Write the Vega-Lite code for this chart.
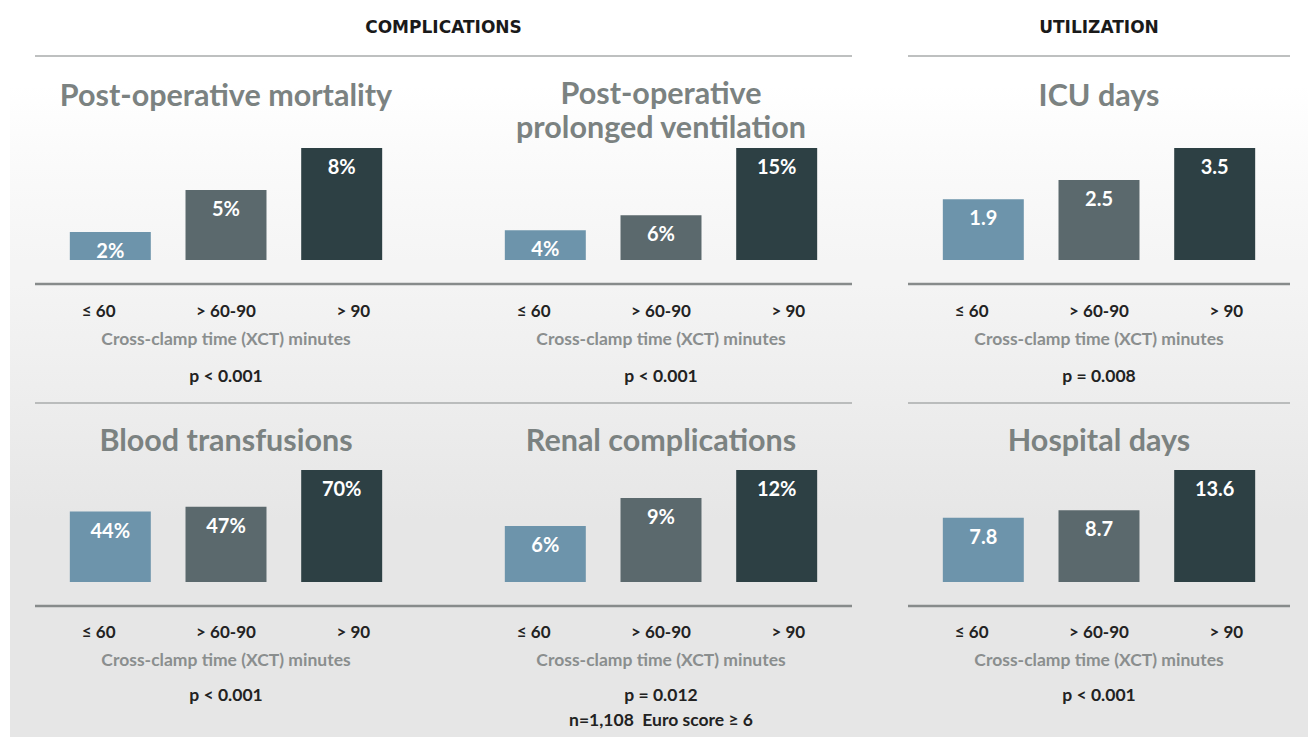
{
  "$schema": "https://vega.github.io/schema/vega-lite/v6.json",
  "padding": {"left": 10, "top": 0, "right": 0, "bottom": 0},
  "autosize": {"type": "pad"},
  "background": "#ffffff",
  "bounds": "flush",
  "align": "each",
  "spacing": 0,
  "columns": 7,
  "config": {"view": {"stroke": null}, "font": "Lato"},
  "datasets": {
    "bars": [
      {"panel": "mort", "cat": "≤ 60", "value": 2, "label": "2%"},
      {"panel": "mort", "cat": "> 60-90", "value": 5, "label": "5%"},
      {"panel": "mort", "cat": "> 90", "value": 8, "label": "8%"},
      {"panel": "vent", "cat": "≤ 60", "value": 4, "label": "4%"},
      {"panel": "vent", "cat": "> 60-90", "value": 6, "label": "6%"},
      {"panel": "vent", "cat": "> 90", "value": 15, "label": "15%"},
      {"panel": "icu", "cat": "≤ 60", "value": 1.9, "label": "1.9"},
      {"panel": "icu", "cat": "> 60-90", "value": 2.5, "label": "2.5"},
      {"panel": "icu", "cat": "> 90", "value": 3.5, "label": "3.5"},
      {"panel": "blood", "cat": "≤ 60", "value": 44, "label": "44%"},
      {"panel": "blood", "cat": "> 60-90", "value": 47, "label": "47%"},
      {"panel": "blood", "cat": "> 90", "value": 70, "label": "70%"},
      {"panel": "renal", "cat": "≤ 60", "value": 6, "label": "6%"},
      {"panel": "renal", "cat": "> 60-90", "value": 9, "label": "9%"},
      {"panel": "renal", "cat": "> 90", "value": 12, "label": "12%"},
      {"panel": "hosp", "cat": "≤ 60", "value": 7.8, "label": "7.8"},
      {"panel": "hosp", "cat": "> 60-90", "value": 8.7, "label": "8.7"},
      {"panel": "hosp", "cat": "> 90", "value": 13.6, "label": "13.6"}
    ],
    "panels": [
      {"panel": "mort", "title": "Post-operative mortality", "xlabel": "Cross-clamp time (XCT) minutes", "p": "p < 0.001", "note": ""},
      {"panel": "vent", "title": "Post-operative\nprolonged ventilation", "xlabel": "Cross-clamp time (XCT) minutes", "p": "p < 0.001", "note": ""},
      {"panel": "icu", "title": "ICU days", "xlabel": "Cross-clamp time (XCT) minutes", "p": "p = 0.008", "note": ""},
      {"panel": "blood", "title": "Blood transfusions", "xlabel": "Cross-clamp time (XCT) minutes", "p": "p < 0.001", "note": ""},
      {"panel": "renal", "title": "Renal complications", "xlabel": "Cross-clamp time (XCT) minutes", "p": "p = 0.012", "note": "n=1,108 \u00a0Euro score ≥ 6"},
      {"panel": "hosp", "title": "Hospital days", "xlabel": "Cross-clamp time (XCT) minutes", "p": "p < 0.001", "note": ""}
    ],
    "headers": [
      {"group": "comp", "label": "COMPLICATIONS"},
      {"group": "util", "label": "UTILIZATION"}
    ]
  },
  "concat": [
    {"width": 25, "height": 56, "data": {"values": [{}]}, "mark": {"type": "text", "text": ""}, "encoding": {}, "view": {"fill": "#ffffff"}},
    {"width": 382, "height": 56, "data": {"values": [{}]}, "mark": {"type": "text", "text": ""}, "encoding": {}, "view": {"fill": "#ffffff"}},
    {"width": 53, "height": 56, "data": {"name": "headers"}, "transform": [{"filter": "datum.group==='comp'"}], "mark": {"type": "text", "font": "DejaVu Sans", "fontWeight": "bold", "fontSize": 17, "color": "#1a1a1a"}, "encoding": {"text": {"field": "label", "type": "nominal"}}, "view": {"fill": "#ffffff"}},
    {"width": 382, "height": 56, "data": {"values": [{}]}, "mark": {"type": "text", "text": ""}, "encoding": {}, "view": {"fill": null}},
    {"width": 56, "height": 56, "data": {"values": [{}]}, "mark": {"type": "text", "text": ""}, "encoding": {}, "view": {"fill": "#ffffff"}},
    {"width": 382, "height": 56, "data": {"name": "headers"}, "transform": [{"filter": "datum.group==='util'"}], "mark": {"type": "text", "font": "DejaVu Sans", "fontWeight": "bold", "fontSize": 17, "color": "#1a1a1a"}, "encoding": {"text": {"field": "label", "type": "nominal"}}, "view": {"fill": "#ffffff"}},
    {"width": 18, "height": 56, "data": {"values": [{}]}, "mark": {"type": "text", "text": ""}, "encoding": {}, "view": {"fill": "#ffffff"}},

    {"width": 25, "height": 92, "data": {"values": [{}]}, "mark": {"type": "text", "text": ""}, "encoding": {}, "view": {"fill": {"gradient": "linear", "x1": 0, "y1": 0, "x2": 0, "y2": 1, "stops": [{"offset": 0, "color": "#ffffff"}, {"offset": 0.32, "color": "#ffffff"}, {"offset": 1, "color": "#fbfbfb"}]}}},
    {"width": 382, "height": 92, "view": {"fill": {"gradient": "linear", "x1": 0, "y1": 0, "x2": 0, "y2": 1, "stops": [{"offset": 0, "color": "#ffffff"}, {"offset": 0.32, "color": "#ffffff"}, {"offset": 1, "color": "#fbfbfb"}]}},
      "layer": [
        {"data": {"values": [{}]}, "mark": {"type": "rule", "color": "#a9abab", "strokeWidth": 1.5}, "encoding": {"y": {"value": 0}}},
        {"data": {"name": "panels"}, "transform": [{"filter": "datum.panel==='mort'"}], "mark": {"type": "text", "fontSize": 30.5, "fontWeight": "bold", "color": "#7b8281", "lineBreak": "\n", "lineHeight": 34, "dy": -5}, "encoding": {"text": {"field": "title", "type": "nominal"}}}
      ]},
    {"width": 53, "height": 92, "view": {"fill": {"gradient": "linear", "x1": 0, "y1": 0, "x2": 0, "y2": 1, "stops": [{"offset": 0, "color": "#ffffff"}, {"offset": 0.32, "color": "#ffffff"}, {"offset": 1, "color": "#fbfbfb"}]}}, "data": {"values": [{}]}, "mark": {"type": "rule", "color": "#a9abab", "strokeWidth": 1.5}, "encoding": {"y": {"value": 0}}},
    {"width": 382, "height": 92, "view": {"fill": {"gradient": "linear", "x1": 0, "y1": 0, "x2": 0, "y2": 1, "stops": [{"offset": 0, "color": "#ffffff"}, {"offset": 0.32, "color": "#ffffff"}, {"offset": 1, "color": "#fbfbfb"}]}},
      "layer": [
        {"data": {"values": [{}]}, "mark": {"type": "rule", "color": "#a9abab", "strokeWidth": 1.5}, "encoding": {"y": {"value": 0}}},
        {"data": {"name": "panels"}, "transform": [{"filter": "datum.panel==='vent'"}], "mark": {"type": "text", "fontSize": 30.5, "fontWeight": "bold", "color": "#7b8281", "lineBreak": "\n", "lineHeight": 34, "dy": -7}, "encoding": {"text": {"field": "title", "type": "nominal"}}}
      ]},
    {"width": 56, "height": 92, "data": {"values": [{}]}, "mark": {"type": "text", "text": ""}, "encoding": {}, "view": {"fill": {"gradient": "linear", "x1": 0, "y1": 0, "x2": 0, "y2": 1, "stops": [{"offset": 0, "color": "#ffffff"}, {"offset": 0.32, "color": "#ffffff"}, {"offset": 1, "color": "#fbfbfb"}]}}},
    {"width": 382, "height": 92, "view": {"fill": {"gradient": "linear", "x1": 0, "y1": 0, "x2": 0, "y2": 1, "stops": [{"offset": 0, "color": "#ffffff"}, {"offset": 0.32, "color": "#ffffff"}, {"offset": 1, "color": "#fbfbfb"}]}},
      "layer": [
        {"data": {"values": [{}]}, "mark": {"type": "rule", "color": "#a9abab", "strokeWidth": 1.5}, "encoding": {"y": {"value": 0}}},
        {"data": {"name": "panels"}, "transform": [{"filter": "datum.panel==='icu'"}], "mark": {"type": "text", "fontSize": 30.5, "fontWeight": "bold", "color": "#7b8281", "lineBreak": "\n", "lineHeight": 34, "dy": -5}, "encoding": {"text": {"field": "title", "type": "nominal"}}}
      ]},
    {"width": 18, "height": 92, "data": {"values": [{}]}, "mark": {"type": "text", "text": ""}, "encoding": {}, "view": {"fill": {"gradient": "linear", "x1": 0, "y1": 0, "x2": 0, "y2": 1, "stops": [{"offset": 0, "color": "#ffffff"}, {"offset": 0.32, "color": "#ffffff"}, {"offset": 1, "color": "#fbfbfb"}]}}},

    {"width": 25, "height": 112, "data": {"values": [{}]}, "mark": {"type": "text", "text": ""}, "encoding": {}, "view": {"fill": {"gradient": "linear", "x1": 0, "y1": 0, "x2": 0, "y2": 1, "stops": [{"offset": 0, "color": "#fbfbfb"}, {"offset": 1, "color": "#f5f5f5"}]}}},
    {"width": 382, "height": 112, "view": {"fill": {"gradient": "linear", "x1": 0, "y1": 0, "x2": 0, "y2": 1, "stops": [{"offset": 0, "color": "#fbfbfb"}, {"offset": 1, "color": "#f5f5f5"}]}},
      "data": {"name": "bars"}, "transform": [{"filter": "datum.panel==='mort'"}],
      "encoding": {
        "x": {"field": "cat", "type": "nominal", "scale": {"domain": ["≤ 60", "> 60-90", "> 90"], "paddingInner": 0.3, "paddingOuter": 0.301}, "axis": null},
        "y": {"field": "value", "type": "quantitative", "scale": {"nice": false, "zero": true}, "axis": null}
      },
      "layer": [
        {"mark": {"type": "bar"}, "encoding": {"color": {"field": "cat", "type": "nominal", "scale": {"domain": ["≤ 60", "> 60-90", "> 90"], "range": ["#6d94ab", "#5b696d", "#2d4044"]}, "legend": null}}},
        {"mark": {"type": "text", "baseline": "top", "dy": 10, "fontSize": 20, "fontWeight": "bold", "color": "#ffffff"}, "encoding": {"text": {"field": "label", "type": "nominal"}}}
      ]},
    {"width": 53, "height": 112, "data": {"values": [{}]}, "mark": {"type": "text", "text": ""}, "encoding": {}, "view": {"fill": {"gradient": "linear", "x1": 0, "y1": 0, "x2": 0, "y2": 1, "stops": [{"offset": 0, "color": "#fbfbfb"}, {"offset": 1, "color": "#f5f5f5"}]}}},
    {"width": 382, "height": 112, "view": {"fill": {"gradient": "linear", "x1": 0, "y1": 0, "x2": 0, "y2": 1, "stops": [{"offset": 0, "color": "#fbfbfb"}, {"offset": 1, "color": "#f5f5f5"}]}},
      "data": {"name": "bars"}, "transform": [{"filter": "datum.panel==='vent'"}],
      "encoding": {
        "x": {"field": "cat", "type": "nominal", "scale": {"domain": ["≤ 60", "> 60-90", "> 90"], "paddingInner": 0.3, "paddingOuter": 0.301}, "axis": null},
        "y": {"field": "value", "type": "quantitative", "scale": {"nice": false, "zero": true}, "axis": null}
      },
      "layer": [
        {"mark": {"type": "bar"}, "encoding": {"color": {"field": "cat", "type": "nominal", "scale": {"domain": ["≤ 60", "> 60-90", "> 90"], "range": ["#6d94ab", "#5b696d", "#2d4044"]}, "legend": null}}},
        {"mark": {"type": "text", "baseline": "top", "dy": 10, "fontSize": 20, "fontWeight": "bold", "color": "#ffffff"}, "encoding": {"text": {"field": "label", "type": "nominal"}}}
      ]},
    {"width": 56, "height": 112, "data": {"values": [{}]}, "mark": {"type": "text", "text": ""}, "encoding": {}, "view": {"fill": {"gradient": "linear", "x1": 0, "y1": 0, "x2": 0, "y2": 1, "stops": [{"offset": 0, "color": "#fbfbfb"}, {"offset": 1, "color": "#f5f5f5"}]}}},
    {"width": 382, "height": 112, "view": {"fill": {"gradient": "linear", "x1": 0, "y1": 0, "x2": 0, "y2": 1, "stops": [{"offset": 0, "color": "#fbfbfb"}, {"offset": 1, "color": "#f5f5f5"}]}},
      "data": {"name": "bars"}, "transform": [{"filter": "datum.panel==='icu'"}],
      "encoding": {
        "x": {"field": "cat", "type": "nominal", "scale": {"domain": ["≤ 60", "> 60-90", "> 90"], "paddingInner": 0.3, "paddingOuter": 0.301}, "axis": null},
        "y": {"field": "value", "type": "quantitative", "scale": {"nice": false, "zero": true}, "axis": null}
      },
      "layer": [
        {"mark": {"type": "bar"}, "encoding": {"color": {"field": "cat", "type": "nominal", "scale": {"domain": ["≤ 60", "> 60-90", "> 90"], "range": ["#6d94ab", "#5b696d", "#2d4044"]}, "legend": null}}},
        {"mark": {"type": "text", "baseline": "top", "dy": 10, "fontSize": 20, "fontWeight": "bold", "color": "#ffffff"}, "encoding": {"text": {"field": "label", "type": "nominal"}}}
      ]},
    {"width": 18, "height": 112, "data": {"values": [{}]}, "mark": {"type": "text", "text": ""}, "encoding": {}, "view": {"fill": {"gradient": "linear", "x1": 0, "y1": 0, "x2": 0, "y2": 1, "stops": [{"offset": 0, "color": "#fbfbfb"}, {"offset": 1, "color": "#f5f5f5"}]}}},

    {"width": 25, "height": 24, "data": {"values": [{}]}, "mark": {"type": "text", "text": ""}, "encoding": {}, "view": {"fill": "#f4f4f4"}},
    {"width": 382, "height": 24, "data": {"values": [{}]}, "mark": {"type": "text", "text": ""}, "encoding": {}, "view": {"fill": "#f4f4f4"}},
    {"width": 53, "height": 24, "data": {"values": [{}]}, "mark": {"type": "text", "text": ""}, "encoding": {}, "view": {"fill": "#f4f4f4"}},
    {"width": 382, "height": 24, "data": {"values": [{}]}, "mark": {"type": "text", "text": ""}, "encoding": {}, "view": {"fill": "#f4f4f4"}},
    {"width": 56, "height": 24, "data": {"values": [{}]}, "mark": {"type": "text", "text": ""}, "encoding": {}, "view": {"fill": "#f4f4f4"}},
    {"width": 382, "height": 24, "data": {"values": [{}]}, "mark": {"type": "text", "text": ""}, "encoding": {}, "view": {"fill": "#f4f4f4"}},
    {"width": 18, "height": 24, "data": {"values": [{}]}, "mark": {"type": "text", "text": ""}, "encoding": {}, "view": {"fill": "#f4f4f4"}},

    {"width": 25, "height": 119, "data": {"values": [{}]}, "mark": {"type": "text", "text": ""}, "encoding": {}, "view": {"fill": {"gradient": "linear", "x1": 0, "y1": 0, "x2": 0, "y2": 1, "stops": [{"offset": 0, "color": "#f4f4f4"}, {"offset": 1, "color": "#ededed"}]}}},
    {"width": 382, "height": 119, "view": {"fill": {"gradient": "linear", "x1": 0, "y1": 0, "x2": 0, "y2": 1, "stops": [{"offset": 0, "color": "#f4f4f4"}, {"offset": 1, "color": "#ededed"}]}},
      "layer": [
        {"data": {"values": [{}]}, "mark": {"type": "rule", "color": "#878b8b", "strokeWidth": 2.5}, "encoding": {"y": {"value": 0}}},
        {"data": {"name": "bars"}, "transform": [{"filter": "datum.panel==='mort'"}], "mark": {"type": "text", "fontSize": 17, "fontWeight": "bold", "color": "#222222", "dy": -31.5}, "encoding": {"x": {"field": "cat", "type": "nominal", "scale": {"domain": ["≤ 60", "> 60-90", "> 90"], "paddingInner": 0.3, "paddingOuter": 0.301}, "axis": null}, "text": {"field": "cat", "type": "nominal"}}},
        {"data": {"name": "panels"}, "transform": [{"filter": "datum.panel==='mort'"}], "mark": {"type": "text", "fontSize": 17.5, "fontWeight": "bold", "color": "#8a8e8e", "dy": -3.5}, "encoding": {"text": {"field": "xlabel", "type": "nominal"}}},
        {"data": {"name": "panels"}, "transform": [{"filter": "datum.panel==='mort'"}], "mark": {"type": "text", "fontSize": 17.5, "fontWeight": "bold", "color": "#222222", "dy": 33.5}, "encoding": {"text": {"field": "p", "type": "nominal"}}}
      ]},
    {"width": 53, "height": 119, "view": {"fill": {"gradient": "linear", "x1": 0, "y1": 0, "x2": 0, "y2": 1, "stops": [{"offset": 0, "color": "#f4f4f4"}, {"offset": 1, "color": "#ededed"}]}}, "data": {"values": [{}]}, "mark": {"type": "rule", "color": "#878b8b", "strokeWidth": 2.5}, "encoding": {"y": {"value": 0}}},
    {"width": 382, "height": 119, "view": {"fill": {"gradient": "linear", "x1": 0, "y1": 0, "x2": 0, "y2": 1, "stops": [{"offset": 0, "color": "#f4f4f4"}, {"offset": 1, "color": "#ededed"}]}},
      "layer": [
        {"data": {"values": [{}]}, "mark": {"type": "rule", "color": "#878b8b", "strokeWidth": 2.5}, "encoding": {"y": {"value": 0}}},
        {"data": {"name": "bars"}, "transform": [{"filter": "datum.panel==='vent'"}], "mark": {"type": "text", "fontSize": 17, "fontWeight": "bold", "color": "#222222", "dy": -31.5}, "encoding": {"x": {"field": "cat", "type": "nominal", "scale": {"domain": ["≤ 60", "> 60-90", "> 90"], "paddingInner": 0.3, "paddingOuter": 0.301}, "axis": null}, "text": {"field": "cat", "type": "nominal"}}},
        {"data": {"name": "panels"}, "transform": [{"filter": "datum.panel==='vent'"}], "mark": {"type": "text", "fontSize": 17.5, "fontWeight": "bold", "color": "#8a8e8e", "dy": -3.5}, "encoding": {"text": {"field": "xlabel", "type": "nominal"}}},
        {"data": {"name": "panels"}, "transform": [{"filter": "datum.panel==='vent'"}], "mark": {"type": "text", "fontSize": 17.5, "fontWeight": "bold", "color": "#222222", "dy": 33.5}, "encoding": {"text": {"field": "p", "type": "nominal"}}}
      ]},
    {"width": 56, "height": 119, "data": {"values": [{}]}, "mark": {"type": "text", "text": ""}, "encoding": {}, "view": {"fill": {"gradient": "linear", "x1": 0, "y1": 0, "x2": 0, "y2": 1, "stops": [{"offset": 0, "color": "#f4f4f4"}, {"offset": 1, "color": "#ededed"}]}}},
    {"width": 382, "height": 119, "view": {"fill": {"gradient": "linear", "x1": 0, "y1": 0, "x2": 0, "y2": 1, "stops": [{"offset": 0, "color": "#f4f4f4"}, {"offset": 1, "color": "#ededed"}]}},
      "layer": [
        {"data": {"values": [{}]}, "mark": {"type": "rule", "color": "#878b8b", "strokeWidth": 2.5}, "encoding": {"y": {"value": 0}}},
        {"data": {"name": "bars"}, "transform": [{"filter": "datum.panel==='icu'"}], "mark": {"type": "text", "fontSize": 17, "fontWeight": "bold", "color": "#222222", "dy": -31.5}, "encoding": {"x": {"field": "cat", "type": "nominal", "scale": {"domain": ["≤ 60", "> 60-90", "> 90"], "paddingInner": 0.3, "paddingOuter": 0.301}, "axis": null}, "text": {"field": "cat", "type": "nominal"}}},
        {"data": {"name": "panels"}, "transform": [{"filter": "datum.panel==='icu'"}], "mark": {"type": "text", "fontSize": 17.5, "fontWeight": "bold", "color": "#8a8e8e", "dy": -3.5}, "encoding": {"text": {"field": "xlabel", "type": "nominal"}}},
        {"data": {"name": "panels"}, "transform": [{"filter": "datum.panel==='icu'"}], "mark": {"type": "text", "fontSize": 17.5, "fontWeight": "bold", "color": "#222222", "dy": 33.5}, "encoding": {"text": {"field": "p", "type": "nominal"}}}
      ]},
    {"width": 18, "height": 119, "data": {"values": [{}]}, "mark": {"type": "text", "text": ""}, "encoding": {}, "view": {"fill": {"gradient": "linear", "x1": 0, "y1": 0, "x2": 0, "y2": 1, "stops": [{"offset": 0, "color": "#f4f4f4"}, {"offset": 1, "color": "#ededed"}]}}},

    {"width": 25, "height": 67, "data": {"values": [{}]}, "mark": {"type": "text", "text": ""}, "encoding": {}, "view": {"fill": {"gradient": "linear", "x1": 0, "y1": 0, "x2": 0, "y2": 1, "stops": [{"offset": 0, "color": "#ededed"}, {"offset": 1, "color": "#e9e9e9"}]}}},
    {"width": 382, "height": 67, "view": {"fill": {"gradient": "linear", "x1": 0, "y1": 0, "x2": 0, "y2": 1, "stops": [{"offset": 0, "color": "#ededed"}, {"offset": 1, "color": "#e9e9e9"}]}},
      "layer": [
        {"data": {"values": [{}]}, "mark": {"type": "rule", "color": "#a9abab", "strokeWidth": 1.5}, "encoding": {"y": {"value": 0}}},
        {"data": {"name": "panels"}, "transform": [{"filter": "datum.panel==='blood'"}], "mark": {"type": "text", "fontSize": 30.5, "fontWeight": "bold", "color": "#7b8281", "lineBreak": "\n", "lineHeight": 34, "dy": 5.5}, "encoding": {"text": {"field": "title", "type": "nominal"}}}
      ]},
    {"width": 53, "height": 67, "view": {"fill": {"gradient": "linear", "x1": 0, "y1": 0, "x2": 0, "y2": 1, "stops": [{"offset": 0, "color": "#ededed"}, {"offset": 1, "color": "#e9e9e9"}]}}, "data": {"values": [{}]}, "mark": {"type": "rule", "color": "#a9abab", "strokeWidth": 1.5}, "encoding": {"y": {"value": 0}}},
    {"width": 382, "height": 67, "view": {"fill": {"gradient": "linear", "x1": 0, "y1": 0, "x2": 0, "y2": 1, "stops": [{"offset": 0, "color": "#ededed"}, {"offset": 1, "color": "#e9e9e9"}]}},
      "layer": [
        {"data": {"values": [{}]}, "mark": {"type": "rule", "color": "#a9abab", "strokeWidth": 1.5}, "encoding": {"y": {"value": 0}}},
        {"data": {"name": "panels"}, "transform": [{"filter": "datum.panel==='renal'"}], "mark": {"type": "text", "fontSize": 30.5, "fontWeight": "bold", "color": "#7b8281", "lineBreak": "\n", "lineHeight": 34, "dy": 5.5}, "encoding": {"text": {"field": "title", "type": "nominal"}}}
      ]},
    {"width": 56, "height": 67, "data": {"values": [{}]}, "mark": {"type": "text", "text": ""}, "encoding": {}, "view": {"fill": {"gradient": "linear", "x1": 0, "y1": 0, "x2": 0, "y2": 1, "stops": [{"offset": 0, "color": "#ededed"}, {"offset": 1, "color": "#e9e9e9"}]}}},
    {"width": 382, "height": 67, "view": {"fill": {"gradient": "linear", "x1": 0, "y1": 0, "x2": 0, "y2": 1, "stops": [{"offset": 0, "color": "#ededed"}, {"offset": 1, "color": "#e9e9e9"}]}},
      "layer": [
        {"data": {"values": [{}]}, "mark": {"type": "rule", "color": "#a9abab", "strokeWidth": 1.5}, "encoding": {"y": {"value": 0}}},
        {"data": {"name": "panels"}, "transform": [{"filter": "datum.panel==='hosp'"}], "mark": {"type": "text", "fontSize": 30.5, "fontWeight": "bold", "color": "#7b8281", "lineBreak": "\n", "lineHeight": 34, "dy": 5.5}, "encoding": {"text": {"field": "title", "type": "nominal"}}}
      ]},
    {"width": 18, "height": 67, "data": {"values": [{}]}, "mark": {"type": "text", "text": ""}, "encoding": {}, "view": {"fill": {"gradient": "linear", "x1": 0, "y1": 0, "x2": 0, "y2": 1, "stops": [{"offset": 0, "color": "#ededed"}, {"offset": 1, "color": "#e9e9e9"}]}}},

    {"width": 25, "height": 112, "data": {"values": [{}]}, "mark": {"type": "text", "text": ""}, "encoding": {}, "view": {"fill": {"gradient": "linear", "x1": 0, "y1": 0, "x2": 0, "y2": 1, "stops": [{"offset": 0, "color": "#e9e9e9"}, {"offset": 0.45, "color": "#e6e6e6"}, {"offset": 1, "color": "#e6e6e6"}]}}},
    {"width": 382, "height": 112, "view": {"fill": {"gradient": "linear", "x1": 0, "y1": 0, "x2": 0, "y2": 1, "stops": [{"offset": 0, "color": "#e9e9e9"}, {"offset": 0.45, "color": "#e6e6e6"}, {"offset": 1, "color": "#e6e6e6"}]}},
      "data": {"name": "bars"}, "transform": [{"filter": "datum.panel==='blood'"}],
      "encoding": {
        "x": {"field": "cat", "type": "nominal", "scale": {"domain": ["≤ 60", "> 60-90", "> 90"], "paddingInner": 0.3, "paddingOuter": 0.301}, "axis": null},
        "y": {"field": "value", "type": "quantitative", "scale": {"nice": false, "zero": true}, "axis": null}
      },
      "layer": [
        {"mark": {"type": "bar"}, "encoding": {"color": {"field": "cat", "type": "nominal", "scale": {"domain": ["≤ 60", "> 60-90", "> 90"], "range": ["#6d94ab", "#5b696d", "#2d4044"]}, "legend": null}}},
        {"mark": {"type": "text", "baseline": "top", "dy": 10, "fontSize": 20, "fontWeight": "bold", "color": "#ffffff"}, "encoding": {"text": {"field": "label", "type": "nominal"}}}
      ]},
    {"width": 53, "height": 112, "data": {"values": [{}]}, "mark": {"type": "text", "text": ""}, "encoding": {}, "view": {"fill": {"gradient": "linear", "x1": 0, "y1": 0, "x2": 0, "y2": 1, "stops": [{"offset": 0, "color": "#e9e9e9"}, {"offset": 0.45, "color": "#e6e6e6"}, {"offset": 1, "color": "#e6e6e6"}]}}},
    {"width": 382, "height": 112, "view": {"fill": {"gradient": "linear", "x1": 0, "y1": 0, "x2": 0, "y2": 1, "stops": [{"offset": 0, "color": "#e9e9e9"}, {"offset": 0.45, "color": "#e6e6e6"}, {"offset": 1, "color": "#e6e6e6"}]}},
      "data": {"name": "bars"}, "transform": [{"filter": "datum.panel==='renal'"}],
      "encoding": {
        "x": {"field": "cat", "type": "nominal", "scale": {"domain": ["≤ 60", "> 60-90", "> 90"], "paddingInner": 0.3, "paddingOuter": 0.301}, "axis": null},
        "y": {"field": "value", "type": "quantitative", "scale": {"nice": false, "zero": true}, "axis": null}
      },
      "layer": [
        {"mark": {"type": "bar"}, "encoding": {"color": {"field": "cat", "type": "nominal", "scale": {"domain": ["≤ 60", "> 60-90", "> 90"], "range": ["#6d94ab", "#5b696d", "#2d4044"]}, "legend": null}}},
        {"mark": {"type": "text", "baseline": "top", "dy": 10, "fontSize": 20, "fontWeight": "bold", "color": "#ffffff"}, "encoding": {"text": {"field": "label", "type": "nominal"}}}
      ]},
    {"width": 56, "height": 112, "data": {"values": [{}]}, "mark": {"type": "text", "text": ""}, "encoding": {}, "view": {"fill": {"gradient": "linear", "x1": 0, "y1": 0, "x2": 0, "y2": 1, "stops": [{"offset": 0, "color": "#e9e9e9"}, {"offset": 0.45, "color": "#e6e6e6"}, {"offset": 1, "color": "#e6e6e6"}]}}},
    {"width": 382, "height": 112, "view": {"fill": {"gradient": "linear", "x1": 0, "y1": 0, "x2": 0, "y2": 1, "stops": [{"offset": 0, "color": "#e9e9e9"}, {"offset": 0.45, "color": "#e6e6e6"}, {"offset": 1, "color": "#e6e6e6"}]}},
      "data": {"name": "bars"}, "transform": [{"filter": "datum.panel==='hosp'"}],
      "encoding": {
        "x": {"field": "cat", "type": "nominal", "scale": {"domain": ["≤ 60", "> 60-90", "> 90"], "paddingInner": 0.3, "paddingOuter": 0.301}, "axis": null},
        "y": {"field": "value", "type": "quantitative", "scale": {"nice": false, "zero": true}, "axis": null}
      },
      "layer": [
        {"mark": {"type": "bar"}, "encoding": {"color": {"field": "cat", "type": "nominal", "scale": {"domain": ["≤ 60", "> 60-90", "> 90"], "range": ["#6d94ab", "#5b696d", "#2d4044"]}, "legend": null}}},
        {"mark": {"type": "text", "baseline": "top", "dy": 10, "fontSize": 20, "fontWeight": "bold", "color": "#ffffff"}, "encoding": {"text": {"field": "label", "type": "nominal"}}}
      ]},
    {"width": 18, "height": 112, "data": {"values": [{}]}, "mark": {"type": "text", "text": ""}, "encoding": {}, "view": {"fill": {"gradient": "linear", "x1": 0, "y1": 0, "x2": 0, "y2": 1, "stops": [{"offset": 0, "color": "#e9e9e9"}, {"offset": 0.45, "color": "#e6e6e6"}, {"offset": 1, "color": "#e6e6e6"}]}}},

    {"width": 25, "height": 24, "data": {"values": [{}]}, "mark": {"type": "text", "text": ""}, "encoding": {}, "view": {"fill": "#e6e6e6"}},
    {"width": 382, "height": 24, "data": {"values": [{}]}, "mark": {"type": "text", "text": ""}, "encoding": {}, "view": {"fill": "#e6e6e6"}},
    {"width": 53, "height": 24, "data": {"values": [{}]}, "mark": {"type": "text", "text": ""}, "encoding": {}, "view": {"fill": "#e6e6e6"}},
    {"width": 382, "height": 24, "data": {"values": [{}]}, "mark": {"type": "text", "text": ""}, "encoding": {}, "view": {"fill": "#e6e6e6"}},
    {"width": 56, "height": 24, "data": {"values": [{}]}, "mark": {"type": "text", "text": ""}, "encoding": {}, "view": {"fill": "#e6e6e6"}},
    {"width": 382, "height": 24, "data": {"values": [{}]}, "mark": {"type": "text", "text": ""}, "encoding": {}, "view": {"fill": "#e6e6e6"}},
    {"width": 18, "height": 24, "data": {"values": [{}]}, "mark": {"type": "text", "text": ""}, "encoding": {}, "view": {"fill": "#e6e6e6"}},

    {"width": 25, "height": 131, "data": {"values": [{}]}, "mark": {"type": "text", "text": ""}, "encoding": {}, "view": {"fill": "#e6e6e6"}},
    {"width": 382, "height": 131, "view": {"fill": "#e6e6e6"},
      "layer": [
        {"data": {"values": [{}]}, "mark": {"type": "rule", "color": "#878b8b", "strokeWidth": 2.5}, "encoding": {"y": {"value": 0}}},
        {"data": {"name": "bars"}, "transform": [{"filter": "datum.panel==='blood'"}], "mark": {"type": "text", "fontSize": 17, "fontWeight": "bold", "color": "#222222", "dy": -38.5}, "encoding": {"x": {"field": "cat", "type": "nominal", "scale": {"domain": ["≤ 60", "> 60-90", "> 90"], "paddingInner": 0.3, "paddingOuter": 0.301}, "axis": null}, "text": {"field": "cat", "type": "nominal"}}},
        {"data": {"name": "panels"}, "transform": [{"filter": "datum.panel==='blood'"}], "mark": {"type": "text", "fontSize": 17.5, "fontWeight": "bold", "color": "#8a8e8e", "dy": -10.5}, "encoding": {"text": {"field": "xlabel", "type": "nominal"}}},
        {"data": {"name": "panels"}, "transform": [{"filter": "datum.panel==='blood'"}], "mark": {"type": "text", "fontSize": 17.5, "fontWeight": "bold", "color": "#222222", "dy": 24.5}, "encoding": {"text": {"field": "p", "type": "nominal"}}},
        {"data": {"name": "panels"}, "transform": [{"filter": "datum.panel==='blood'"}], "mark": {"type": "text", "fontSize": 17.5, "fontWeight": "bold", "color": "#222222", "dy": 49.5}, "encoding": {"text": {"field": "note", "type": "nominal"}}}
      ]},
    {"width": 53, "height": 131, "view": {"fill": "#e6e6e6"}, "data": {"values": [{}]}, "mark": {"type": "rule", "color": "#878b8b", "strokeWidth": 2.5}, "encoding": {"y": {"value": 0}}},
    {"width": 382, "height": 131, "view": {"fill": "#e6e6e6"},
      "layer": [
        {"data": {"values": [{}]}, "mark": {"type": "rule", "color": "#878b8b", "strokeWidth": 2.5}, "encoding": {"y": {"value": 0}}},
        {"data": {"name": "bars"}, "transform": [{"filter": "datum.panel==='renal'"}], "mark": {"type": "text", "fontSize": 17, "fontWeight": "bold", "color": "#222222", "dy": -38.5}, "encoding": {"x": {"field": "cat", "type": "nominal", "scale": {"domain": ["≤ 60", "> 60-90", "> 90"], "paddingInner": 0.3, "paddingOuter": 0.301}, "axis": null}, "text": {"field": "cat", "type": "nominal"}}},
        {"data": {"name": "panels"}, "transform": [{"filter": "datum.panel==='renal'"}], "mark": {"type": "text", "fontSize": 17.5, "fontWeight": "bold", "color": "#8a8e8e", "dy": -10.5}, "encoding": {"text": {"field": "xlabel", "type": "nominal"}}},
        {"data": {"name": "panels"}, "transform": [{"filter": "datum.panel==='renal'"}], "mark": {"type": "text", "fontSize": 17.5, "fontWeight": "bold", "color": "#222222", "dy": 24.5}, "encoding": {"text": {"field": "p", "type": "nominal"}}},
        {"data": {"name": "panels"}, "transform": [{"filter": "datum.panel==='renal'"}], "mark": {"type": "text", "fontSize": 17.5, "fontWeight": "bold", "color": "#222222", "dy": 49.5}, "encoding": {"text": {"field": "note", "type": "nominal"}}}
      ]},
    {"width": 56, "height": 131, "data": {"values": [{}]}, "mark": {"type": "text", "text": ""}, "encoding": {}, "view": {"fill": "#e6e6e6"}},
    {"width": 382, "height": 131, "view": {"fill": "#e6e6e6"},
      "layer": [
        {"data": {"values": [{}]}, "mark": {"type": "rule", "color": "#878b8b", "strokeWidth": 2.5}, "encoding": {"y": {"value": 0}}},
        {"data": {"name": "bars"}, "transform": [{"filter": "datum.panel==='hosp'"}], "mark": {"type": "text", "fontSize": 17, "fontWeight": "bold", "color": "#222222", "dy": -38.5}, "encoding": {"x": {"field": "cat", "type": "nominal", "scale": {"domain": ["≤ 60", "> 60-90", "> 90"], "paddingInner": 0.3, "paddingOuter": 0.301}, "axis": null}, "text": {"field": "cat", "type": "nominal"}}},
        {"data": {"name": "panels"}, "transform": [{"filter": "datum.panel==='hosp'"}], "mark": {"type": "text", "fontSize": 17.5, "fontWeight": "bold", "color": "#8a8e8e", "dy": -10.5}, "encoding": {"text": {"field": "xlabel", "type": "nominal"}}},
        {"data": {"name": "panels"}, "transform": [{"filter": "datum.panel==='hosp'"}], "mark": {"type": "text", "fontSize": 17.5, "fontWeight": "bold", "color": "#222222", "dy": 24.5}, "encoding": {"text": {"field": "p", "type": "nominal"}}},
        {"data": {"name": "panels"}, "transform": [{"filter": "datum.panel==='hosp'"}], "mark": {"type": "text", "fontSize": 17.5, "fontWeight": "bold", "color": "#222222", "dy": 49.5}, "encoding": {"text": {"field": "note", "type": "nominal"}}}
      ]},
    {"width": 18, "height": 131, "data": {"values": [{}]}, "mark": {"type": "text", "text": ""}, "encoding": {}, "view": {"fill": "#e6e6e6"}}
  ]
}
